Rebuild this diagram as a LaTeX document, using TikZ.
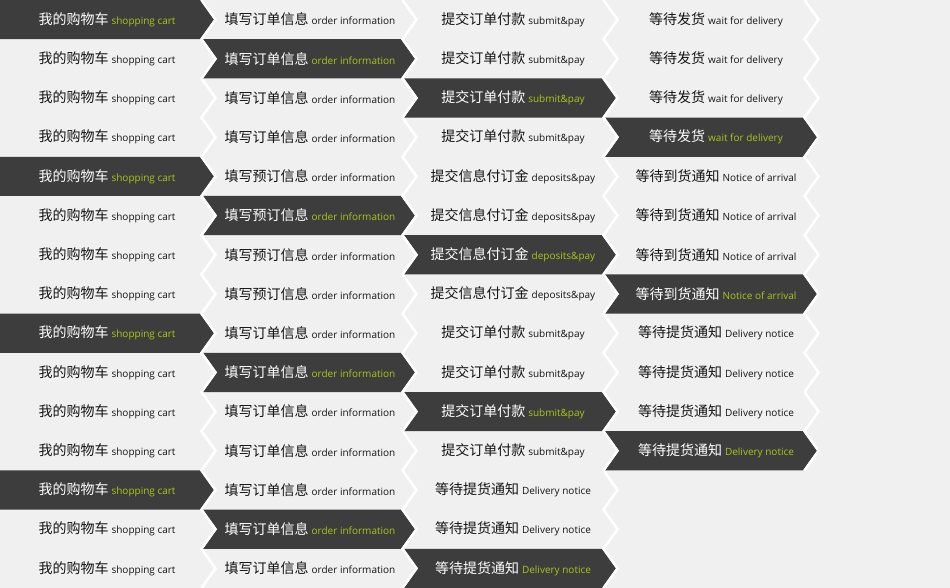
\documentclass[tikz,border=0pt]{standalone}
\usepackage{fontspec}
\setmainfont{Open Sans}
\newfontfamily\cjkfont{Noto Sans CJK SC}
\usepackage{xcolor}
\usetikzlibrary{calc}

\definecolor{bggray}{RGB}{240,240,240}
\definecolor{stepdark}{RGB}{61,61,61}
\definecolor{stepgreen}{RGB}{170,198,24}
\definecolor{stepink}{RGB}{20,20,20}

\newcommand{\cntext}[1]{{\cjkfont\fontsize{14}{16}\selectfont #1}}
\newcommand{\entext}[1]{{\fontsize{10}{12}\selectfont #1}}

\tikzset{
  cellbg/.style={fill=bggray},
  stepsep/.style={draw=white,line width=2.5pt,line join=miter},
  stepon/.style={fill=stepdark},
  steplabel/.style={inner sep=0pt,anchor=center},
}

\begin{document}
\begin{tikzpicture}[x=1pt,y=-1pt]
		\useasboundingbox (0,0) rectangle (950,588);
		\fill[cellbg] (0,0) rectangle (950,588);
		% dark step of each row
		\foreach \r in {0,...,14}{
			\pgfmathtruncatemacro\dcol{mod(\r,4)}
			\pgfmathsetmacro\yt{39.2*\r}
			\pgfmathsetmacro\ym{39.2*\r+19.6}
			\pgfmathsetmacro\yb{39.2*\r+39.2}
			\ifnum\dcol=0
				\fill[stepon] (0,\yt) -- (200,\yt) -- (214,\ym) -- (200,\yb) -- (0,\yb) -- cycle;
			\else
				\fill[stepon] ({201*\dcol+2},\yt) -- ({201*\dcol+200},\yt) -- ({201*\dcol+214},\ym)
					-- ({201*\dcol+200},\yb) -- ({201*\dcol+2},\yb) -- ({201*\dcol+16},\ym) -- cycle;
			\fi
		}
		% white chevron separators
		\foreach \k/\last in {1/14,2/14,3/14,4/11}{
			\draw[stepsep] ({201*\k+0.5},0)
				\foreach \r in {0,...,\last}{ -- ({201*\k+14.5},{39.2*\r+19.6}) -- ({201*\k+0.5},{39.2*\r+39.2}) };
		}
		% labels
		\foreach \g/\zhB/\enB/\zhC/\enC/\zhD/\enD in {
			0/填写订单信息/order information/提交订单付款/submit\&pay/等待发货/wait for delivery,
			1/填写预订信息/order information/提交信息付订金/deposits\&pay/等待到货通知/Notice of arrival,
			2/填写订单信息/order information/提交订单付款/submit\&pay/等待提货通知/Delivery notice,
			3/填写订单信息/order information/等待提货通知/Delivery notice/x/x}{
			\foreach \i in {0,...,3}{
				\pgfmathtruncatemacro\r{4*\g+\i}
				\ifnum\r<15
				\foreach \col/\zh/\en in {0/我的购物车/shopping cart,1/\zhB/\enB,2/\zhC/\enC,3/\zhD/\enD}{
					\pgfmathtruncatemacro\skipit{(\r>11)&&(\col==3)}
					\ifnum\skipit=0
					\ifnum\col=\i
						\node[steplabel] (cell-\r-\col) at ({203*\col+107},{39.2*\r+19.6})
							{\color{white}\cntext{\zh}\hspace{3pt}\color{stepgreen}\entext{\en}};
					\else
						\node[steplabel] (cell-\r-\col) at ({203*\col+107},{39.2*\r+19.6})
							{\color{stepink}\cntext{\zh}\hspace{3pt}\entext{\en}};
					\fi
					\fi
				}
				\fi
			}
		}
	\end{tikzpicture}
\end{document}
